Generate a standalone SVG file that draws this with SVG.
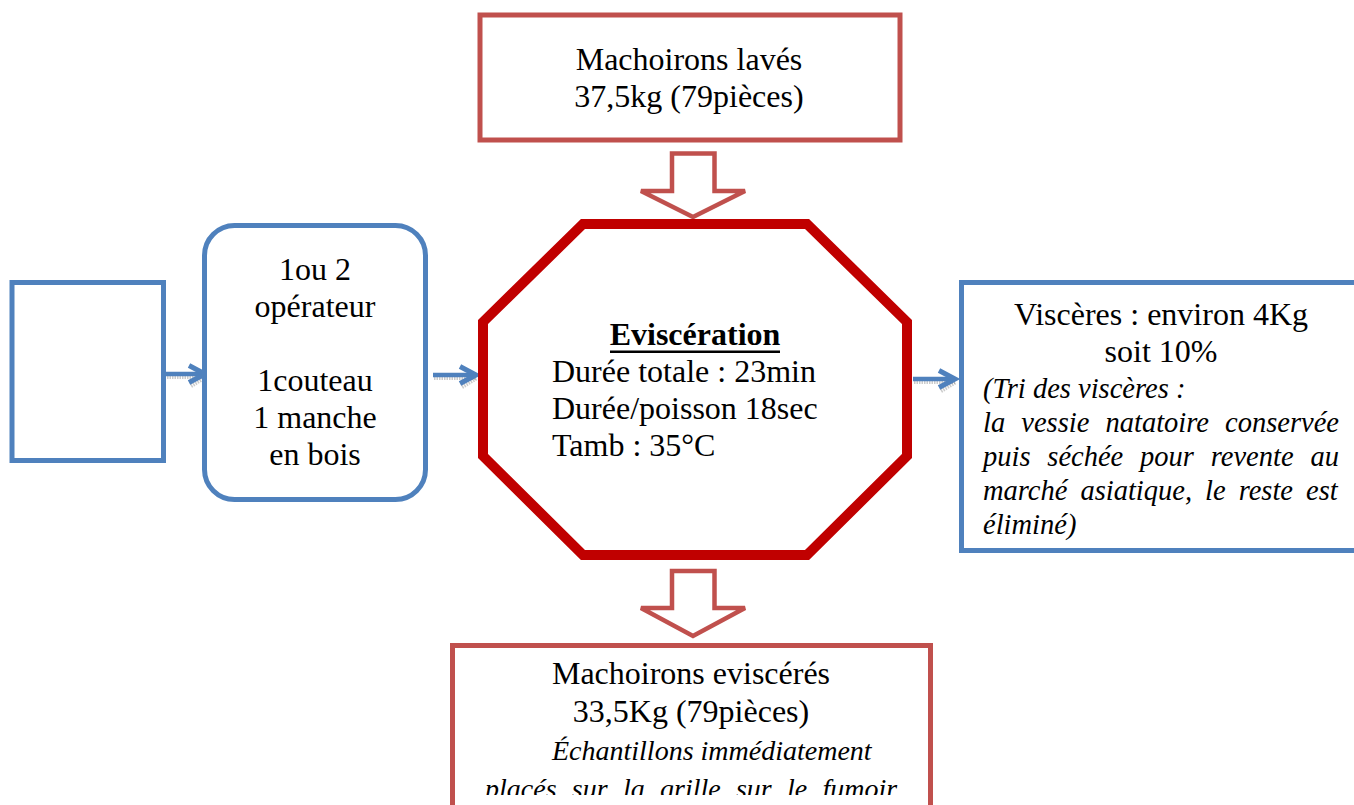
<svg xmlns="http://www.w3.org/2000/svg" width="1354" height="805" viewBox="0 0 1354 805">
  <style>
    text { font-family: "Liberation Serif", "Times New Roman", serif; font-size: 32px; fill: #000; }
    .it { font-style: italic; font-size: 28.5px; }
    .it28 { font-style: italic; font-size: 28px; }
    .mid { text-anchor: middle; }
    .bold { font-weight: bold; }
    .redbox { fill: #fff; stroke: #C0504D; stroke-width: 5; }
    .bluebox { fill: #fff; stroke: #4F81BD; stroke-width: 5; }
    .octa { fill: #fff; stroke: #C00000; stroke-width: 10; stroke-linejoin: miter; }
    .down { fill: #fff; stroke: #C0504D; stroke-width: 4.5; stroke-linejoin: miter; }
    .shaft { stroke: #4F81BD; stroke-width: 4.5; fill: none; }
    .head { stroke: #4F81BD; stroke-width: 5; fill: none; stroke-linejoin: miter; stroke-miterlimit: 6; stroke-linecap: butt; }
    .shadow { stroke: #8c8c8c; stroke-width: 4; fill: none; opacity: 0.45; stroke-dasharray: 1.5 1; }
  </style>
  <defs>
    <clipPath id="bottomClip">
      <rect x="440" y="640" width="500" height="155"/>
    </clipPath>
  </defs>

  <rect width="1354" height="805" fill="#fff"/>

  <!-- connectors -->
  <g id="connectors">
    <!-- block arrows into and out of the central step -->
    <polygon class="down" points="672,153.5 714.5,153.5 714.5,191 745,191 693,217 641,191 672,191"/>
    <polygon class="down" points="672,571 714.5,571 714.5,608 745,608 693,636 641,608 672,608"/>

    <!-- line arrows, with soft shadow -->
    <g transform="translate(1,3)">
      <line class="shadow" x1="166" y1="374" x2="204" y2="374"/>
      <polyline class="shadow" points="190,383 205,374"/>
      <line class="shadow" x1="433" y1="375" x2="475" y2="375"/>
      <polyline class="shadow" points="461,384 476,375"/>
      <line class="shadow" x1="913" y1="379" x2="954" y2="379"/>
      <polyline class="shadow" points="940,388 955,379"/>
    </g>
    <line class="shaft" x1="166" y1="374" x2="204" y2="374"/>
    <polyline class="head" points="189,365.5 205,374 189,382.5"/>
    <line class="shaft" x1="433" y1="375" x2="475" y2="375"/>
    <polyline class="head" points="460,366.5 476,375 460,383.5"/>
    <line class="shaft" x1="913" y1="379" x2="954" y2="379"/>
    <polyline class="head" points="939,370.5 955,379 939,387.5"/>
  </g>

  <!-- input: washed fish -->
  <g id="node-input">
    <rect class="redbox" x="480" y="15" width="420" height="125"/>
    <text class="mid" x="689" y="70">Machoirons lavés</text>
    <text class="mid" x="689" y="107">37,5kg (79pièces)</text>
  </g>

  <!-- empty box on the far left -->
  <g id="node-empty">
    <rect class="bluebox" x="12" y="282.5" width="151.5" height="178"/>
  </g>

  <!-- operators and tools -->
  <g id="node-means">
    <rect class="bluebox" x="204.5" y="225.5" width="221" height="274" rx="30" ry="30"/>
    <text class="mid" x="315" y="280">1ou 2</text>
    <text class="mid" x="315" y="317">opérateur</text>
    <text class="mid" x="315" y="391">1couteau</text>
    <text class="mid" x="315" y="428">1 manche</text>
    <text class="mid" x="315" y="465">en bois</text>
  </g>

  <!-- central step: evisceration -->
  <g id="node-evisceration">
    <polygon class="octa" points="583,224 807,224 907,322 907,456 807,555 583,555 483,456 483,322"/>
    <text class="mid bold" x="695" y="345">Eviscération</text>
    <rect x="610" y="350.5" width="170" height="2.5" fill="#000"/>
    <text x="552" y="382">Durée totale : 23min</text>
    <text x="552" y="419">Durée/poisson 18sec</text>
    <text x="552" y="456">Tamb : 35°C</text>
  </g>

  <!-- by-product: viscera -->
  <g id="node-viscera">
    <rect class="bluebox" x="961.5" y="282.5" width="420" height="268"/>
    <text class="mid" x="1161" y="325">Viscères : environ 4Kg</text>
    <text class="mid" x="1161" y="362">soit 10%</text>
    <text class="it" x="983" y="398">(Tri des viscères :</text>
    <text class="it" x="983" y="432" word-spacing="9">la vessie natatoire conservée</text>
    <text class="it" x="983" y="466" word-spacing="9.7">puis séchée pour revente au</text>
    <text class="it" x="983" y="500" word-spacing="5.9">marché asiatique, le reste est</text>
    <text class="it" x="983" y="534">éliminé)</text>
  </g>

  <!-- output: eviscerated fish -->
  <g id="node-output">
    <rect class="redbox" x="452.5" y="645.5" width="478" height="220"/>
    <g clip-path="url(#bottomClip)">
      <text class="mid" x="691" y="684">Machoirons eviscérés</text>
      <text class="mid" x="691" y="722">33,5Kg (79pièces)</text>
      <text class="it28" x="552" y="760">Échantillons immédiatement</text>
      <text class="it28" x="485" y="798" word-spacing="8.3">placés sur la grille sur le fumoir</text>
    </g>
  </g>
</svg>
